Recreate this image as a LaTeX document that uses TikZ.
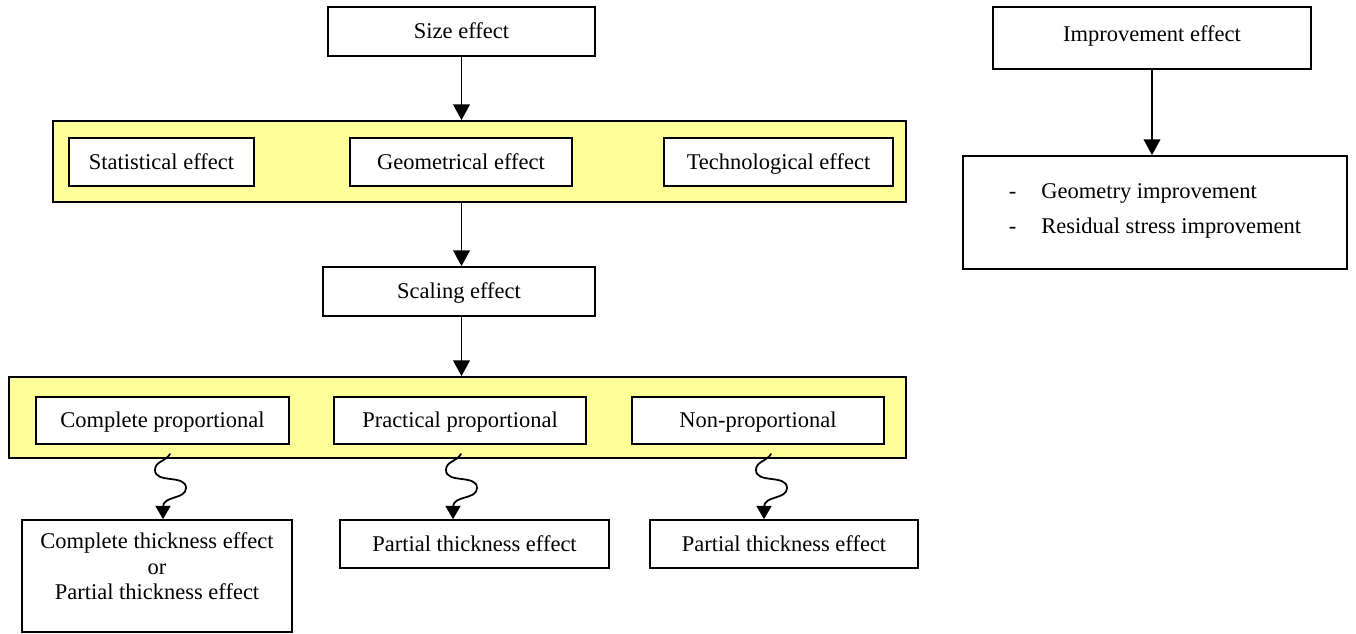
\documentclass[tikz,border=0pt]{standalone}
\usepackage{fontspec}
\setmainfont{Liberation Serif}
\usetikzlibrary{arrows.meta}
\definecolor{bandyellow}{RGB}{255,255,153}
\begin{document}
\begin{tikzpicture}[x=0.02cm,y=-0.02cm,line cap=round,>={Triangle[width=9.5pt,length=9pt]},
  frame/.style={draw,line width=1pt,fill=white,inner sep=0pt,align=center,font=\fontsize{12.8}{14.5}\selectfont},
  box/.style={frame,text height=0.95em,text depth=0.12em},
  band/.style={draw,line width=1pt,fill=bandyellow,inner sep=0pt},
  arr/.style={line width=1pt,->},
  wave/.style={line width=1pt,-{Triangle[width=8.5pt,length=7.5pt]}}]
\useasboundingbox (0,0) rectangle (1356,634);
\node[box,minimum width=5.34cm,minimum height=0.98cm] (size) at (461.5,31.5) {Size effect};
\node[band,minimum width=17.06cm,minimum height=1.62cm] (band1) at (479.5,161.5) {};
\node[box,minimum width=3.7cm,minimum height=0.96cm] (stat) at (161.5,162) {Statistical effect};
\node[box,minimum width=4.44cm,minimum height=0.96cm] (geom) at (461,162) {Geometrical effect};
\node[box,minimum width=4.58cm,minimum height=0.96cm] (tech) at (778.5,162) {Technological effect};
\node[box,minimum width=5.44cm,minimum height=0.98cm] (scal) at (459,291.5) {Scaling effect};
\node[band,minimum width=17.94cm,minimum height=1.62cm] (band2) at (457.5,417.5) {};
\node[box,minimum width=5.06cm,minimum height=0.94cm] (cp) at (162.5,420.5) {Complete proportional};
\node[box,minimum width=5.04cm,minimum height=0.94cm] (pp) at (460,420.5) {Practical proportional};
\node[box,minimum width=5.04cm,minimum height=0.94cm] (np) at (758,420.5) {Non-proportional};
\node[frame,minimum width=5.4cm,minimum height=2.24cm] (ct) at (157,576) {Complete thickness effect\\or\\Partial thickness effect\\[-8pt] \strut};
\node[box,minimum width=5.38cm,minimum height=0.96cm] (pt1) at (474.5,544) {Partial thickness effect};
\node[box,minimum width=5.36cm,minimum height=0.96cm] (pt2) at (784,544) {Partial thickness effect};
\node[box,text depth=0.56em,minimum width=6.36cm,minimum height=1.24cm] (imp) at (1152,38) {Improvement effect};
\node[frame,minimum width=7.68cm,minimum height=2.26cm] (impl) at (1155,212.5)
  {\raisebox{0pt}[\height][\dimexpr\depth+4pt\relax]{\renewcommand{\arraystretch}{1.35}\begin{tabular}{@{}l@{\hspace{0.5cm}}l@{}}
  -&Geometry improvement\\ -&Residual stress improvement\end{tabular}}};
\draw[arr] (size.south) -- (size.south |- band1.north);
\draw[arr] (size.south |- band1.south) -- (size.south |- scal.north);
\draw[arr] (size.south |- scal.south) -- (size.south |- band2.north);
\draw[arr] (imp.south) -- (imp.south |- impl.north);
\foreach \s/\e/\sx/\ex in {cp/ct/170/163,pp/pt1/461/453,np/pt2/771/764}{
  \coordinate (w\s) at (\sx,454);
  \draw[wave] (w\s) to[out=-120,in=90] ++(-15,16) to[out=-90,in=90] ++(31,18)
    to[out=-90,in=90] (\ex,507) -- (\ex,0 |- \e.north);
}
\end{tikzpicture}
\end{document}
